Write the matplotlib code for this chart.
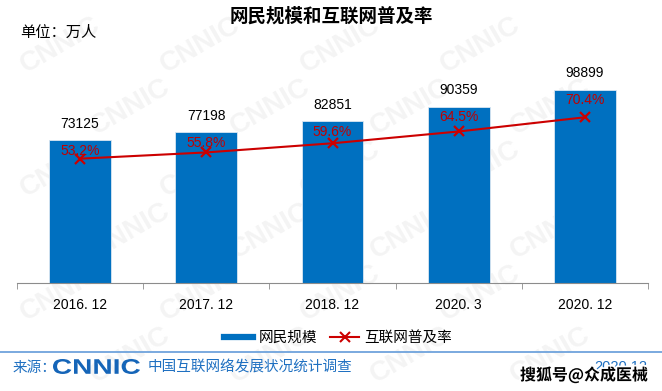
import matplotlib
matplotlib.use("Agg")
import matplotlib.pyplot as plt
from matplotlib.lines import Line2D
from matplotlib.patches import PathPatch
from matplotlib.textpath import TextPath
from matplotlib.font_manager import FontProperties
from matplotlib.transforms import Affine2D
import matplotlib.patheffects as pe

plt.rcParams['font.family'] = ['Noto Sans CJK SC', 'DejaVu Sans']

categories = ['2016. 12', '2017. 12', '2018. 12', '2020. 3', '2020. 12']
netizens = [73125, 77198, 82851, 90359, 98899]
penetration = [53.2, 55.8, 59.6, 64.5, 70.4]

bar_color = '#0070C0'
line_color = '#CC0000'
pct_color = '#C00000'
footer_blue = '#1F70C1'

W, H = 662, 391
fig = plt.figure(figsize=(W / 100, H / 100), dpi=100)

# faint CNNIC watermark pattern behind everything (kept inside the canvas)
for row, y in enumerate(range(45, 370, 62)):
    shift = 0 if row % 2 == 0 else 70
    for x in range(60, 560, 140):
        fig.text((x + shift) / W, 1 - y / H, 'CNNIC', fontsize=20, weight='bold',
                 family='Liberation Sans', color='#f4f4f4', rotation=30,
                 ha='center', va='center', zorder=-5)

ax = fig.add_axes([17 / W, 1 - 283 / H, (648 - 17) / W, (283 - 60) / H])
ax.patch.set_alpha(0)
x = range(len(categories))
ax.bar(x, netizens, width=0.49, color=bar_color, edgecolor='#d9e6f2', linewidth=0.6)
ax.set_xlim(-0.5, len(categories) - 0.5)
ax.set_ylim(0, 114360)

for xi, v in zip(x, netizens):
    ax.annotate(str(v), (xi, v), xytext=(0, 12), textcoords='offset points',
                ha='center', va='center', fontsize=10, family='Liberation Sans', color='black')

for side in ['top', 'left', 'right']:
    ax.spines[side].set_visible(False)
ax.spines['bottom'].set_color('#8c8c8c')
ax.set_yticks([])
ax.set_xticks(list(x))
ax.set_xticklabels(categories, fontsize=10, family='Liberation Sans')
ax.set_xticks([i - 0.5 for i in range(len(categories) + 1)], minor=True)
ax.tick_params(axis='x', which='major', length=0, pad=10.5)
ax.tick_params(axis='x', which='minor', length=4, color='#8c8c8c')

ax2 = ax.twinx()
ax2.patch.set_alpha(0)
ax2.plot(list(x), penetration, color=line_color, lw=1.5, marker='x', ms=7, mew=1.6)
ax2.set_ylim(1.54, 94.2)
ax2.set_yticks([])
for side in ['top', 'left', 'right', 'bottom']:
    ax2.spines[side].set_visible(False)

for xi, v, p in zip(x, netizens, penetration):
    ax2.annotate(f'{p}%', (xi, v * 94.2 / 114360), xytext=(0, -7), textcoords='offset points',
                 ha='center', va='center', fontsize=10, family='Liberation Sans', color=pct_color)

# titles
fig.text(331 / W, 1 - 16 / H, '网民规模和互联网普及率', fontsize=13.3, weight='bold',
         ha='center', va='center')
fig.text(20 / W, 1 - 32 / H, '单位：万人', fontsize=11, ha='left', va='center')

# legend
handles = [Line2D([], [], color=bar_color, lw=4.5),
           Line2D([], [], color=line_color, lw=1.5, marker='x', ms=7, mew=1.5)]
fig.legend(handles, ['网民规模', '互联网普及率'], loc='center',
           bbox_to_anchor=(338 / W, 1 - 338 / H), ncol=2, frameon=False, fontsize=10.5,
           handlelength=2.0, handletextpad=0.35, columnspacing=0.9)

# footer
fig.add_artist(Line2D([0, 1], [1 - 352 / H, 1 - 352 / H], color='#6FA3DC', lw=1.3,
                      transform=fig.transFigure))
fig.text(13 / W, 1 - 368 / H, '来源：', fontsize=10.5, color=footer_blue, ha='left', va='center')
logo = TextPath((0, 0), 'CNNIC', size=20,
                prop=FontProperties(family='Liberation Sans', weight='bold'))
lb = logo.get_extents()
sx = (140 - 53) / lb.width
sy = 15 / lb.height
fig.add_artist(PathPatch(logo, color='#1565B8', lw=0,
                         transform=Affine2D().translate(-lb.x0, -lb.y0).scale(sx, sy)
                         .translate(53, H - 374)))
fig.text(148 / W, 1 - 368 / H, '中国互联网络发展状况统计调查', fontsize=10.5, color=footer_blue,
         ha='left', va='center')
fig.text(647 / W, 1 - 367 / H, '2020.12', fontsize=10.5, color=footer_blue,
         family='Liberation Sans', ha='right', va='center')
fig.text(648 / W, 1 - 375 / H, '搜狐号@众成医械', fontsize=11.5, weight='bold', color='black',
         ha='right', va='center',
         path_effects=[pe.withStroke(linewidth=2.5, foreground='white')])

fig.savefig('out.png', dpi=100)
